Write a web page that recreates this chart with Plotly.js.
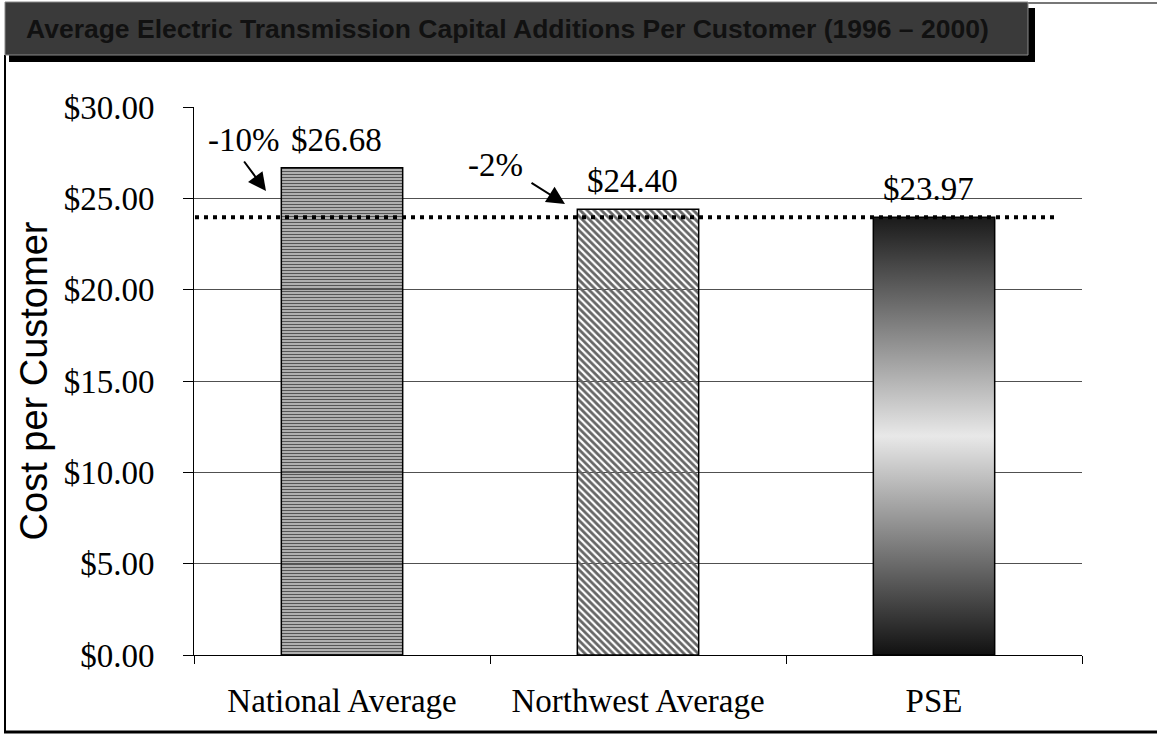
<!DOCTYPE html>
<html><head><meta charset="utf-8">
<script src="https://cdn.plot.ly/plotly-3.0.1.min.js"></script>
<style>html,body{margin:0;padding:0;background:#fff}#chart{width:1157px;height:734px}</style>
</head><body><div id="chart"></div>
<script>
// ---- data ----
const categories = ["National Average", "Northwest Average", "PSE"];
const costPerCustomer = [26.68, 24.40, 23.97];
const valueLabels = ["$26.68", "$24.40", "$23.97"];
const pctLabels = ["-10%", "-2%"];
const yTickValues = [0, 5, 10, 15, 20, 25, 30];
const yTickLabels = ["$0.00", "$5.00", "$10.00", "$15.00", "$20.00", "$25.00", "$30.00"];
const chartTitle = "Average Electric Transmission Capital Additions Per Customer (1996 \u2013 2000)";
const yTitle = "Cost per Customer";
const benchmark = costPerCustomer[2]; // PSE level shown as dotted line

// ---- geometry helpers ----
const W = 1157, H = 734;
const M = {l: 194, r: 75, t: 107, b: 79, pad: 0};
const pw = W - M.l - M.r, ph = H - M.t - M.b;
const px = x => (x - M.l) / pw;
const py = y => (H - M.b - y) / ph;

const serif = "Liberation Serif, Times New Roman, serif";
const sans = "Liberation Sans, Arial, sans-serif";
const FS = 33;

const trace = {
  type: "bar",
  x: categories,
  y: costPerCustomer,
  width: 0.41,
  hoverinfo: "skip",
  marker: {
    color: ["#555555", "#666666", "#808080"],
    line: {color: "#000", width: 1.5},
    pattern: {
      shape: ["-", "\\", ""],
      fgcolor: ["#1a1a1a", "#111111", "#000"],
      bgcolor: ["#9a9a9a", "#7c7c7c", "#808080"],
      size: [3, 5, 8],
      solidity: [0.65, 0.55, 0.3],
      fillmode: "replace"
    }
  }
};

const annotations = [];
categories.forEach((c, i) => {
  annotations.push({
    x: c, y: costPerCustomer[i], xref: "x", yref: "y",
    text: valueLabels[i], showarrow: false, xanchor: "center", yanchor: "bottom", yshift: 8, xshift: -6,
    font: {family: serif, size: FS, color: "#000"}
  });
});
// percent callouts
annotations.push({xref: "paper", yref: "paper", x: px(243), y: py(140), text: pctLabels[0],
  xanchor: "center", yanchor: "middle", showarrow: false, font: {family: serif, size: FS, color: "#000"}});
annotations.push({xref: "paper", yref: "paper", x: px(495), y: py(165), text: pctLabels[1],
  xanchor: "center", yanchor: "middle", showarrow: false, font: {family: serif, size: FS, color: "#000"}});
annotations.push({xref: "paper", yref: "paper", x: px(266), y: py(191), text: "",
  showarrow: true, arrowhead: 2, arrowsize: 1.8, arrowwidth: 2, arrowcolor: "#000",
  ax: -23, ay: -31, standoff: 0});
annotations.push({xref: "paper", yref: "paper", x: px(565), y: py(204), text: "",
  showarrow: true, arrowhead: 2, arrowsize: 1.8, arrowwidth: 2, arrowcolor: "#000",
  ax: -35, ay: -22, standoff: 0});

const shapes = [
  // frame
  {type: "line", xref: "paper", yref: "paper", x0: px(5), x1: px(5), y0: py(55), y1: py(732),
   line: {color: "#000", width: 2}},
  {type: "line", xref: "paper", yref: "paper", x0: px(4), x1: px(1160), y0: py(732), y1: py(732),
   line: {color: "#000", width: 3}},
  {type: "line", xref: "paper", yref: "paper", x0: px(1028), x1: px(1160), y0: py(3), y1: py(3),
   line: {color: "#777", width: 2}},
  // title box shadow and box
  {type: "rect", xref: "paper", yref: "paper", x0: px(9), x1: px(1035), y0: py(8), y1: py(62),
   fillcolor: "#000", line: {width: 0}},
  {type: "rect", xref: "paper", yref: "paper", x0: px(5), x1: px(1028), y0: py(2), y1: py(55),
   fillcolor: "#3a3a3a", line: {color: "#888", width: 1}},
  // dotted benchmark line
  {type: "line", xref: "paper", yref: "y", x0: px(195), x1: px(1055), y0: benchmark, y1: benchmark,
   line: {color: "#000", width: 4, dash: "4px,5px"}, layer: "above"}
];

const layout = {
  width: W, height: H, margin: M,
  paper_bgcolor: "#fff", plot_bgcolor: "#fff", showlegend: false,
  title: {text: chartTitle, xref: "container", yref: "container",
    x: 26 / W, xanchor: "left", y: 1 - 29 / H, yanchor: "middle",
    font: {family: sans, size: 26.5, color: "#111", weight: 700}},
  xaxis: {type: "category", range: [-0.5, 2.5], tickson: "boundaries", ticks: "outside",
    ticklen: 8, tickcolor: "#000", tickwidth: 1, showline: true, linecolor: "#000", linewidth: 1,
    showgrid: false, ticklabelstandoff: 16, fixedrange: true,
    tickfont: {family: serif, size: FS, color: "#000"}},
  yaxis: {range: [0, 30], tickvals: yTickValues, ticktext: yTickLabels, ticks: "outside",
    ticklen: 10, tickcolor: "#000", showline: true, linecolor: "#000", linewidth: 1,
    showgrid: true, gridcolor: "#505050", gridwidth: 1, zeroline: false, fixedrange: true,
    ticklabelstandoff: 22,
    tickfont: {family: serif, size: FS, color: "#000"},
    title: {text: yTitle, standoff: 4, font: {family: sans, size: 38, color: "#000"}}},
  annotations: annotations,
  shapes: shapes
};

const gradientStops = [[0, "#1a1a1a"], [0.5, "#e8e8e8"], [1, "#111111"]];

const gd = document.getElementById("chart");
Plotly.newPlot(gd, [trace], layout, {displayModeBar: false, staticPlot: true}).then(() => {
  const ns = "http://www.w3.org/2000/svg";
  const svg = gd.querySelector("svg.main-svg");
  let defs = svg.querySelector("defs");
  if (!defs) { defs = document.createElementNS(ns, "defs"); svg.insertBefore(defs, svg.firstChild); }
  const g = document.createElementNS(ns, "linearGradient");
  g.setAttribute("id", "pseGradient");
  g.setAttribute("x1", "0"); g.setAttribute("y1", "0");
  g.setAttribute("x2", "0"); g.setAttribute("y2", "1");
  gradientStops.forEach(s => {
    const st = document.createElementNS(ns, "stop");
    st.setAttribute("offset", s[0]);
    st.setAttribute("stop-color", s[1]);
    g.appendChild(st);
  });
  defs.appendChild(g);
  const paths = gd.querySelectorAll(".barlayer .point path");
  if (paths[2]) { paths[2].style.fill = "url(#pseGradient)"; paths[2].style.fillOpacity = 1; }
});
</script>
</body></html>
